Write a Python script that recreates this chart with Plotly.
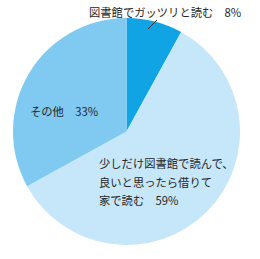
import plotly.graph_objects as go

labels = ["図書館でガッツリと読む", "少しだけ図書館で読んで、良いと思ったら借りて家で読む", "その他"]
values = [8, 59, 33]
colors = ["#10a4e4", "#c6e6f9", "#80c9f1"]

W, H = 260, 259

fig = go.Figure(go.Pie(
    labels=labels, values=values, sort=False, direction="clockwise", rotation=0,
    marker=dict(colors=colors, line=dict(width=0)),
    textinfo="none", hoverinfo="label+percent", showlegend=False,
    domain=dict(x=[13 / W, 240 / W], y=[1 - 245 / H, 1 - 18 / H]),
))

font = dict(family="Noto Sans CJK JP", size=11.3, color="#262626")

def px(x, y):
    return x / W, 1 - y / H

ann = [
    ("図書館でガッツリと読む\u30008%", 87, 12),
    ("その他\u300033%", 28, 111),
    ("少しだけ図書館で読んで、", 97, 163),
    ("良いと思ったら借りて", 97, 182),
    ("家で読む\u300059%", 97, 200),
]
annotations = []
for t, x, y in ann:
    ax, ay = px(x, y)
    annotations.append(dict(text=t, x=ax, y=ay, xref="paper", yref="paper",
                            xanchor="left", yanchor="middle", showarrow=False, font=font))

x0, y0 = px(148, 29)
x1, y1 = px(157, 20)
fig.update_layout(
    width=W, height=H, margin=dict(l=0, r=0, t=0, b=0),
    paper_bgcolor="white", plot_bgcolor="white",
    annotations=annotations,
    shapes=[dict(type="line", xref="paper", yref="paper", x0=x0, y0=y0, x1=x1, y1=y1,
                 line=dict(color="#333333", width=1))],
)
fig.write_html("out.html")
